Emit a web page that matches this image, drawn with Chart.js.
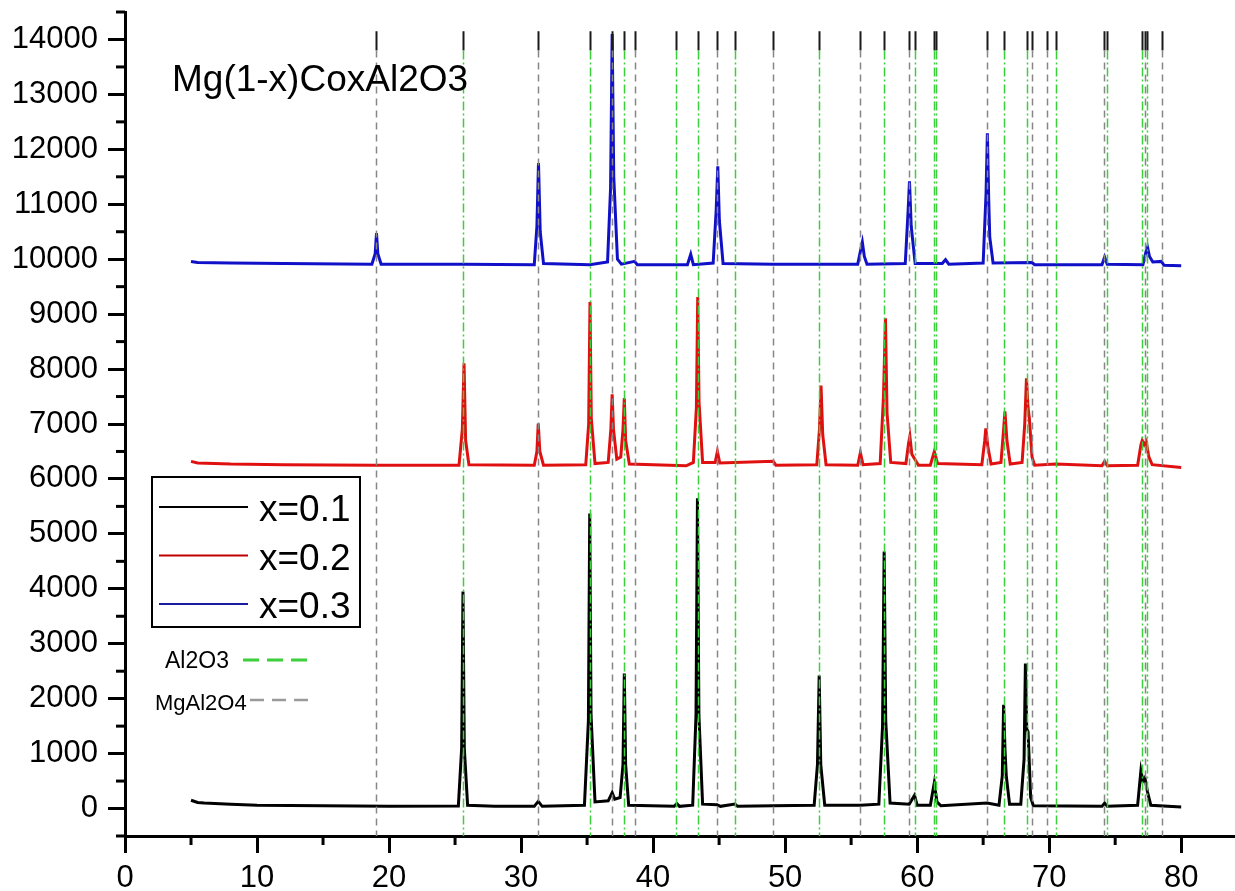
<!DOCTYPE html>
<html>
<head>
<meta charset="utf-8">
<title>Mg(1-x)CoxAl2O3 XRD</title>
<script src="https://cdn.jsdelivr.net/npm/chart.js"></script>
<style>
  html, body { margin: 0; padding: 0; background: #fff; }
  #wrap { width: 1235px; height: 891px; }
</style>
</head>
<body>
<div id="wrap"><canvas id="xrdChart" width="1235" height="891"></canvas></div>
<script>
// ---- values: [2theta, counts] ----
const seriesNames = ['x=0.1', 'x=0.2', 'x=0.3'];

const pattern01 = [
  [5, 150], [5.5, 110], [6, 100], [8, 80], [10, 60], [15, 50], [20, 40], [25.25, 45],
  [25.5, 1100], [25.6, 3950], [25.7, 1100], [25.95, 60],
  [28, 40], [31.0, 40], [31.3, 130], [31.6, 40],
  [34.8, 60], [35.1, 1600], [35.2, 5370], [35.3, 1700], [35.6, 120],
  [36.6, 140], [36.9, 290], [37.1, 170], [37.5, 200], [37.72, 800], [37.82, 2460], [37.92, 800], [38.15, 60],
  [41.6, 40], [41.8, 90], [42.0, 40],
  [43.0, 60], [43.25, 1700], [43.36, 5650], [43.47, 1700], [43.75, 80],
  [44.85, 70], [45.1, 40], [46.2, 80], [46.4, 40], [49.1, 50],
  [52.2, 60], [52.45, 800], [52.58, 2420], [52.7, 800], [53.0, 60],
  [55.7, 60], [57.1, 80], [57.38, 1500], [57.5, 4680], [57.62, 1600], [57.95, 100],
  [59.4, 80], [59.8, 240], [60.0, 60], [61.0, 60], [61.3, 470], [61.5, 120], [61.8, 50],
  [65.3, 100], [66.2, 60], [66.45, 600], [66.55, 1890], [66.65, 1090], [66.75, 600], [67.0, 80],
  [67.85, 80], [68.1, 900], [68.2, 2640], [68.3, 1450], [68.4, 1400], [68.6, 200], [68.8, 50],
  [74.0, 40], [74.2, 100], [74.4, 40],
  [76.7, 60], [76.95, 690], [77.1, 500], [77.25, 560], [77.45, 300], [77.7, 60], [80, 30]
];

const pattern02 = [
  [5, 6320], [5.5, 6290], [8, 6270], [12, 6260], [19, 6250], [25.3, 6250],
  [25.55, 6900], [25.68, 8105], [25.8, 6700], [26.05, 6260],
  [31.0, 6250], [31.2, 6500], [31.3, 7010], [31.42, 6500], [31.7, 6250],
  [34.9, 6260], [35.12, 7000], [35.22, 9220], [35.32, 7100], [35.6, 6280],
  [36.6, 6300], [36.8, 6900], [36.9, 7540], [37.0, 6900], [37.25, 6360],
  [37.55, 6400], [37.72, 6900], [37.82, 7470], [37.92, 6700], [38.2, 6270],
  [42.5, 6240], [43.05, 6300], [43.28, 7300], [43.38, 9310], [43.48, 7400], [43.75, 6300],
  [44.7, 6300], [44.87, 6500], [45.05, 6290], [49.1, 6320], [49.3, 6250],
  [52.4, 6260], [52.6, 6900], [52.72, 7700], [52.85, 6800], [53.1, 6260],
  [55.5, 6250], [55.7, 6480], [55.9, 6260],
  [57.2, 6280], [57.45, 7500], [57.6, 8925], [57.72, 7200], [58.0, 6300],
  [59.15, 6280], [59.35, 6650], [59.45, 6775], [59.6, 6450], [59.85, 6350], [60.1, 6250],
  [61.0, 6250], [61.3, 6500], [61.55, 6280],
  [64.9, 6260], [65.12, 6700], [65.2, 6920], [65.35, 6600], [65.6, 6270],
  [66.35, 6300], [66.55, 6900], [66.65, 7230], [66.8, 6700], [67.05, 6270],
  [67.95, 6300], [68.15, 7000], [68.28, 7830], [68.4, 7300], [68.5, 7100], [68.7, 6400], [68.9, 6250],
  [70.5, 6270], [74.0, 6240], [74.2, 6320], [74.4, 6240],
  [76.7, 6250], [76.95, 6620], [77.05, 6700], [77.2, 6620], [77.35, 6680], [77.55, 6400], [77.8, 6260], [80, 6210]
];

const pattern03 = [
  [5, 9960], [5.5, 9940], [8, 9930], [12, 9920], [18.7, 9910],
  [18.95, 10100], [19.05, 10474], [19.15, 10100], [19.4, 9910],
  [25.6, 9910], [31.0, 9900], [31.2, 10600], [31.32, 11750], [31.45, 10500], [31.7, 9920],
  [35.2, 9900], [36.55, 9950], [36.78, 11300], [36.9, 14100], [37.02, 11500], [37.3, 10000], [37.6, 9910],
  [38.6, 9960], [38.8, 9900], [42.6, 9900], [42.85, 10090], [43.05, 9900],
  [44.55, 9930], [44.78, 10900], [44.9, 11690], [45.02, 10700], [45.3, 9920],
  [49.1, 9910], [55.5, 9910], [55.75, 10200], [55.85, 10310], [56.0, 10050], [56.2, 9910],
  [59.1, 9920], [59.32, 10900], [59.42, 11420], [59.55, 10600], [59.85, 9920],
  [61.9, 9920], [62.15, 9990], [62.4, 9910],
  [65.0, 9930], [65.22, 11200], [65.32, 12290], [65.42, 11100], [65.5, 10400], [65.75, 9930],
  [68.7, 9940], [68.9, 9900], [74.0, 9900], [74.2, 10040], [74.4, 9910],
  [77.1, 9900], [77.35, 10150], [77.45, 10220], [77.6, 10050], [77.85, 9950],
  [78.5, 9960], [78.7, 9890], [80, 9880]
];

// reference peak positions (2theta)
const al2o3Lines = [25.6, 35.2, 37.8, 41.7, 43.4, 46.2, 52.6, 57.5, 59.8, 61.25, 61.4,
  66.6, 68.3, 70.5, 74.35, 77.0, 77.4];
const mgal2o4Lines = [19.0, 31.3, 36.9, 38.6, 44.85, 49.1, 55.7, 59.4, 65.3, 68.7, 69.8,
  74.15, 77.25, 78.55];

const lineColors = ['#000000', '#e01010', '#1010c8'];
const legendColors = ['#000000', '#c00000', '#1a1aa0'];

Chart.defaults.font.family = 'Arial, "Liberation Sans", sans-serif';
Chart.defaults.color = '#000';

const toXY = arr => arr.map(p => ({ x: p[0], y: p[1] }));

// ----------------------- extra drawing ----------------------- //
const extras = {
  id: 'extras',
  afterDatasetsDraw(chart) {
    const { ctx, scales: { x, y } } = chart;
    const yCapTop = y.getPixelForValue(14150);
    const yCapEnd = y.getPixelForValue(13800);
    const yBottom = y.getPixelForValue(-500);

    function drawSet(list, color, dash) {
      list.forEach(v => {
        const px = Math.round(x.getPixelForValue(v)) + 0.5;
        ctx.save();
        ctx.strokeStyle = '#1a1a1a';
        ctx.lineWidth = 2;
        ctx.beginPath(); ctx.moveTo(px, yCapTop); ctx.lineTo(px, yCapEnd); ctx.stroke();
        ctx.strokeStyle = color;
        ctx.lineWidth = 1.5;
        ctx.setLineDash(dash);
        ctx.beginPath(); ctx.moveTo(px, yCapEnd); ctx.lineTo(px, yBottom); ctx.stroke();
        ctx.restore();
      });
    }
    drawSet(mgal2o4Lines, '#878787', [7, 5]);
    drawSet(al2o3Lines, '#3ccf3c', [9, 3, 2, 3]);
  },
  afterDraw(chart) {
    const { ctx, chartArea: area, scales: { x, y } } = chart;
    ctx.save();
    // minor ticks
    ctx.strokeStyle = '#000';
    ctx.lineWidth = 3;
    x.ticks.forEach(t => {
      if (t.value % 10 !== 0) {
        const px = x.getPixelForValue(t.value);
        ctx.beginPath(); ctx.moveTo(px, area.bottom); ctx.lineTo(px, area.bottom + 9); ctx.stroke();
      }
    });
    y.ticks.forEach(t => {
      if (t.value % 1000 !== 0) {
        const py = y.getPixelForValue(t.value);
        ctx.beginPath(); ctx.moveTo(area.left, py); ctx.lineTo(area.left - 9, py); ctx.stroke();
      }
    });

    // title inside plot
    ctx.fillStyle = '#000';
    ctx.textBaseline = 'alphabetic';
    ctx.textAlign = 'left';
    ctx.font = '37px Arial, "Liberation Sans", sans-serif';
    ctx.fillText('Mg(1-x)CoxAl2O3', area.left + 47, area.top + 79);

    // legend box
    const bx = area.left + 27, by = area.top + 465, bw = 208, bh = 150;
    ctx.lineWidth = 2;
    ctx.strokeRect(bx, by, bw, bh);
    ctx.font = '37px Arial, "Liberation Sans", sans-serif';
    seriesNames.forEach((name, i) => {
      const ly = by + 30 + i * 48.5;
      ctx.strokeStyle = legendColors[i];
      ctx.lineWidth = 2;
      ctx.beginPath(); ctx.moveTo(bx + 7, ly); ctx.lineTo(bx + 96, ly); ctx.stroke();
      ctx.fillStyle = '#000';
      ctx.fillText(name, bx + 107, ly + 14);
    });

    // phase key
    ctx.font = '23px Arial, "Liberation Sans", sans-serif';
    ctx.fillStyle = '#000';
    ctx.fillText('Al2O3', area.left + 40, area.top + 656);
    ctx.strokeStyle = '#3ccf3c';
    ctx.lineWidth = 3;
    ctx.setLineDash([16, 8]);
    ctx.beginPath(); ctx.moveTo(area.left + 118, area.top + 648); ctx.lineTo(area.left + 188, area.top + 648); ctx.stroke();

    ctx.font = '22px Arial, "Liberation Sans", sans-serif';
    ctx.fillText('MgAl2O4', area.left + 30, area.top + 698);
    ctx.strokeStyle = '#9a9a9a';
    ctx.lineWidth = 2.5;
    ctx.setLineDash([14, 8]);
    ctx.beginPath(); ctx.moveTo(area.left + 125, area.top + 688); ctx.lineTo(area.left + 190, area.top + 688); ctx.stroke();
    ctx.restore();
  }
};

// ----------------------- chart ----------------------- //
const xrdCtx = document.getElementById('xrdChart').getContext('2d');
const xrdChart = new Chart(xrdCtx, {
  type: 'scatter',
  data: {
    datasets: [pattern01, pattern02, pattern03].map((d, i) => ({
      label: seriesNames[i],
      data: toXY(d),
      showLine: true,
      borderColor: lineColors[i],
      backgroundColor: lineColors[i],
      borderWidth: 3,
      pointRadius: 0,
      tension: 0
    }))
  },
  options: {
    responsive: false,
    animation: false,
    layout: { padding: { top: 12, right: 1, left: 0, bottom: 0 } },
    plugins: {
      legend: { display: false },
      tooltip: { enabled: false }
    },
    scales: {
      x: {
        type: 'linear',
        min: 0,
        max: 84,
        border: { display: true, width: 3, color: '#000' },
        grid: {
          display: true,
          drawOnChartArea: false,
          drawTicks: true,
          tickLength: 17,
          tickWidth: 3,
          tickColor: c => (c.tick && c.tick.value % 10 === 0) ? '#000' : 'rgba(0,0,0,0)'
        },
        ticks: {
          stepSize: 5,
          includeBounds: false,
          autoSkip: false,
          maxRotation: 0,
          padding: 7,
          font: { size: 31 },
          color: '#000',
          callback: v => (v % 10 === 0 ? String(v) : '')
        },
        afterFit: s => {
          s.height = 55;
          s.paddingLeft = 0;
          s.paddingRight = 0;
        }
      },
      y: {
        type: 'linear',
        min: -500,
        max: 14500,
        border: { display: true, width: 3, color: '#000' },
        grid: {
          display: true,
          drawOnChartArea: false,
          drawTicks: true,
          tickLength: 17,
          tickWidth: 3,
          tickColor: c => (c.tick && c.tick.value % 1000 === 0) ? '#000' : 'rgba(0,0,0,0)'
        },
        ticks: {
          stepSize: 500,
          autoSkip: false,
          padding: 10,
          font: { size: 31 },
          color: '#000',
          callback: v => (v % 1000 === 0 && v >= 0 ? String(v) : '')
        },
        afterFit: s => {
          s.width = 125;
          s.paddingTop = 0;
          s.paddingBottom = 0;
        }
      }
    }
  },
  plugins: [extras]
});
</script>
</body>
</html>
